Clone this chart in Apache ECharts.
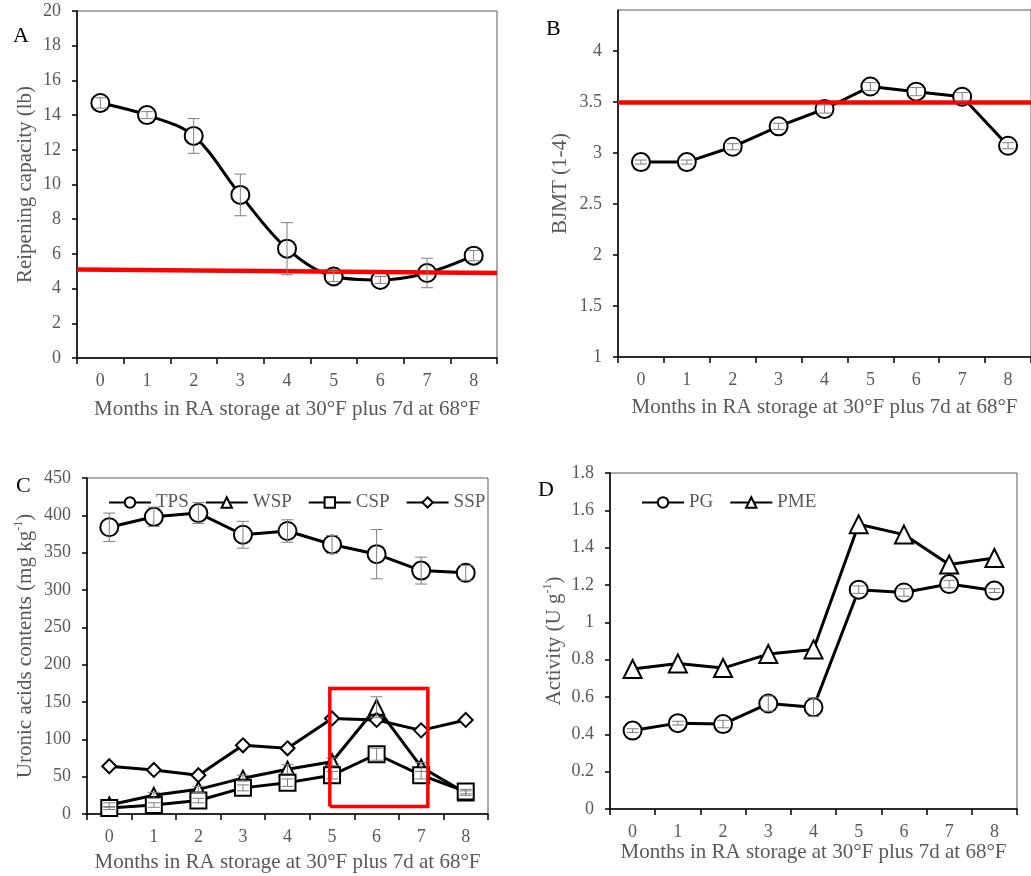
<!DOCTYPE html>
<html>
<head>
<meta charset="utf-8">
<script src="https://cdn.jsdelivr.net/npm/echarts@6/dist/echarts.min.js"></script>
<style>
  html, body { margin: 0; padding: 0; background: #fff; }
  #chart { width: 1031px; height: 876px; }
</style>
</head>
<body>
<div id="chart"></div>
<script>
// 数据
const months = ['0', '1', '2', '3', '4', '5', '6', '7', '8'];

// A
const capA = [14.7, 14.0, 12.8, 9.4, 6.3, 4.7, 4.5, 4.9, 5.9];
const capErrA = [0.3, 0.2, 1.0, 1.2, 1.5, 0.3, 0.2, 0.85, 0.3];
const redLineA = [5.1, 4.9];

// B
const bjmtB = [2.91, 2.91, 3.06, 3.26, 3.43, 3.65, 3.60, 3.55, 3.07];
const bjmtErrB = [0.02, 0.02, 0.03, 0.03, 0.04, 0.04, 0.04, 0.04, 0.03];
const thresholdB = 3.5;

// C
const tps = [384, 398, 403, 374, 379, 361, 348, 326, 323];
const tpsErr = [19, 13, 14, 18, 15, 12, 33, 18, 10];
const wsp = [12, 25, 33, 48, 60, 70, 143, 63, 28];
const wspErr = [3, 4, 4, 4, 6, 5, 14, 6, 3];
const csp = [8, 12, 18, 35, 42, 52, 80, 52, 30];
const cspErr = [2, 3, 3, 4, 5, 5, 8, 5, 3];
const ssp = [64, 59, 52, 92, 88, 128, 126, 112, 126];
const boxCX = [4.95, 7.15];
const boxCY = [10, 168];

// D
const pg = [0.42, 0.46, 0.455, 0.565, 0.545, 1.175, 1.16, 1.205, 1.17];
const pgErr = [0.01, 0.01, 0.02, 0.04, 0.05, 0.02, 0.02, 0.02, 0.01];
const pme = [0.75, 0.78, 0.755, 0.83, 0.855, 1.525, 1.47, 1.31, 1.345];

const font = 'Liberation Serif';
const grey = '#595959';

let chart = echarts.init(document.getElementById('chart'));

function errData(vals, errs) {
  return vals.map((v, i) => [i, v - errs[i], v + errs[i]]);
}

function errRender(params, api) {
  let x = api.value(0);
  let lo = api.coord([x, api.value(1)]);
  let hi = api.coord([x, api.value(2)]);
  let w = 6;
  let st = { stroke: '#7f7f7f', lineWidth: 1 };
  return {
    type: 'group',
    children: [
      { type: 'line', shape: { x1: lo[0], y1: lo[1], x2: hi[0], y2: hi[1] }, style: st },
      { type: 'line', shape: { x1: lo[0] - w, y1: lo[1], x2: lo[0] + w, y2: lo[1] }, style: st },
      { type: 'line', shape: { x1: hi[0] - w, y1: hi[1], x2: hi[0] + w, y2: hi[1] }, style: st }
    ]
  };
}

function errSeries(xi, yi, vals, errs) {
  return {
    type: 'custom',
    xAxisIndex: xi,
    yAxisIndex: yi,
    renderItem: errRender,
    encode: { x: 0, y: [1, 2] },
    data: errData(vals, errs),
    z: 5,
    silent: true
  };
}

function lineSeries(name, xi, yi, data, symbol, size, smooth) {
  return {
    name: name,
    type: 'line',
    xAxisIndex: xi,
    yAxisIndex: yi,
    data: data,
    smooth: smooth || false,
    symbol: symbol,
    symbolSize: size,
    showAllSymbol: true,
    lineStyle: { color: '#000', width: 3 },
    itemStyle: { color: '#000', borderColor: '#000', borderWidth: 2.2 },
    z: 3
  };
}

function catAxis(gi, gap) {
  return {
    type: 'category',
    gridIndex: gi,
    data: months,
    boundaryGap: true,
    name: 'Months in RA storage at 30°F plus 7d at 68°F',
    nameLocation: 'middle',
    nameGap: gap,
    nameTextStyle: { fontFamily: font, fontSize: 21, color: grey },
    axisLine: { onZero: false, lineStyle: { color: '#000', width: 1.5 } },
    axisTick: { show: true, length: 6, alignWithLabel: false, lineStyle: { color: '#000', width: 1.5 } },
    axisLabel: { fontFamily: font, fontSize: 18, color: grey, margin: 14 },
    splitLine: { show: false }
  };
}

function valAxis(gi, name, min, max, interval, gap) {
  return {
    type: 'value',
    gridIndex: gi,
    min: min,
    max: max,
    interval: interval,
    name: name,
    nameLocation: 'middle',
    nameGap: gap,
    nameTextStyle: {
      fontFamily: font, fontSize: 21, color: grey,
      rich: {
        a: { fontFamily: font, fontSize: 21, color: grey },
        sup: { fontFamily: font, fontSize: 12, color: grey, verticalAlign: 'top', lineHeight: 24 }
      }
    },
    axisLine: { show: true, onZero: false, lineStyle: { color: '#000', width: 1.5 } },
    axisTick: { show: true, length: 5, lineStyle: { color: '#000', width: 1.5 } },
    axisLabel: { fontFamily: font, fontSize: 18, color: grey, margin: 16 },
    splitLine: { show: false }
  };
}

function hiddenX(gi) {
  return { type: 'value', gridIndex: gi, min: -0.5, max: 8.5, show: false };
}

let yB = valAxis(1, 'BJMT (1-4)', 1, 4.4, 0.5, 47);
yB.axisLabel.showMaxLabel = false;

let titleStyle = { fontFamily: font, fontSize: 22, fontWeight: 'normal', color: '#000' };
let legendText = { fontFamily: font, fontSize: 19, color: grey };

let option = {
  animation: false,
  backgroundColor: '#fff',
  title: [
    { text: 'A', left: 8, top: 20, textStyle: titleStyle },
    { text: 'B', left: 541, top: 13, textStyle: titleStyle },
    { text: 'C', left: 11, top: 470, textStyle: titleStyle },
    { text: 'D', left: 533, top: 474, textStyle: titleStyle }
  ],
  legend: [
    {
      left: 103, top: 488,
      itemWidth: 42, itemHeight: 13, itemGap: 16,
      textStyle: legendText,
      data: ['TPS', 'WSP', 'CSP', 'SSP']
    },
    {
      left: 636, top: 488,
      itemWidth: 42, itemHeight: 13, itemGap: 16,
      textStyle: legendText,
      data: ['PG', 'PME']
    }
  ],
  grid: [
    { left: 77, top: 11, width: 420, height: 347, show: true, borderColor: grey, borderWidth: 1 },
    { left: 618, top: 10, width: 414, height: 347, show: true, borderColor: grey, borderWidth: 1 },
    { left: 87, top: 478, width: 401, height: 336, show: true, borderColor: grey, borderWidth: 1 },
    { left: 610, top: 473, width: 407, height: 336, show: true, borderColor: grey, borderWidth: 1 }
  ],
  xAxis: [catAxis(0, 41), catAxis(1, 40), catAxis(2, 38), catAxis(3, 30), hiddenX(0), hiddenX(2)],
  yAxis: [
    valAxis(0, 'Reipening capacity (lb)', 0, 20, 2, 41),
    yB,
    valAxis(2, '{a|Uronic acids contents (mg kg}{sup|-1}{a|)}', 0, 450, 50, 50),
    valAxis(3, '{a|Activity (U g}{sup|-1}{a|)}', 0, 1.8, 0.2, 44)
  ],
  series: [
    // A
    lineSeries('Reipening', 0, 0, capA, 'emptyCircle', 18, 0.35),
    errSeries(0, 0, capA, capErrA),
    {
      type: 'line', xAxisIndex: 4, yAxisIndex: 0,
      data: [[-0.5, redLineA[0]], [8.5, redLineA[1]]],
      symbol: 'none', lineStyle: { color: '#ff0000', width: 4.5 }, z: 4, silent: true
    },
    // B
    Object.assign(lineSeries('BJMT', 1, 1, bjmtB, 'emptyCircle', 18, false), {
      markLine: {
        silent: true, symbol: 'none', label: { show: false },
        lineStyle: { color: '#ff0000', width: 4.5, type: 'solid' },
        data: [{ yAxis: thresholdB }]
      }
    }),
    errSeries(1, 1, bjmtB, bjmtErrB),
    // C
    lineSeries('TPS', 2, 2, tps, 'emptyCircle', 18),
    lineSeries('WSP', 2, 2, wsp, 'emptyTriangle', 15),
    lineSeries('CSP', 2, 2, csp, 'emptyRect', 16),
    lineSeries('SSP', 2, 2, ssp, 'emptyDiamond', 14),
    errSeries(2, 2, tps, tpsErr),
    errSeries(2, 2, wsp, wspErr),
    errSeries(2, 2, csp, cspErr),
    {
      type: 'line', xAxisIndex: 5, yAxisIndex: 2,
      data: [[boxCX[0], boxCY[0]], [boxCX[1], boxCY[0]], [boxCX[1], boxCY[1]], [boxCX[0], boxCY[1]], [boxCX[0], boxCY[0]]],
      symbol: 'none', lineStyle: { color: '#ff0000', width: 3.5, join: 'miter' }, z: 6, silent: true
    },
    // D
    lineSeries('PG', 3, 3, pg, 'emptyCircle', 18),
    lineSeries('PME', 3, 3, pme, 'emptyTriangle', 18),
    errSeries(3, 3, pg, pgErr)
  ]
};

chart.setOption(option, true);
</script>
</body>
</html>
